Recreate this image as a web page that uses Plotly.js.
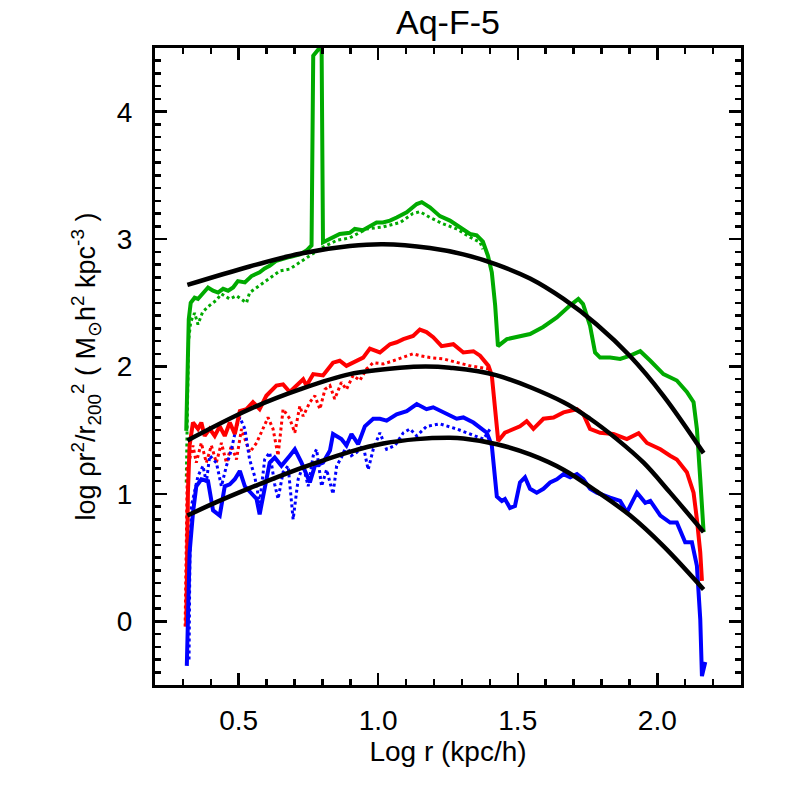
<!DOCTYPE html>
<html>
<head>
<meta charset="utf-8">
<script src="https://cdn.plot.ly/plotly-3.0.1.min.js"></script>
<style>html,body{margin:0;padding:0;background:#fff;}#chart{width:786px;height:786px;}</style>
</head>
<body>
<div id="chart"></div>
<script>
// Green (solid)
const greenX = [0.312,0.316,0.321,0.328,0.342,0.354,0.372,0.390,0.408,0.426,0.444,0.462,0.480,0.497,0.522,0.546,0.575,0.593,0.611,0.635,0.683,0.719,0.743,0.761,0.767,0.797,0.802,0.827,0.862,0.898,0.916,0.945,0.970,0.994,1.017,1.042,1.066,1.102,1.138,1.156,1.185,1.221,1.257,1.304,1.329,1.353,1.375,1.393,1.407,1.419,1.429,1.461,1.496,1.544,1.591,1.640,1.688,1.717,1.734,1.759,1.777,1.795,1.831,1.867,1.903,1.939,1.975,2.022,2.070,2.106,2.130,2.142,2.154,2.166];
const greenY = [1.495,2.06,2.37,2.50,2.54,2.53,2.58,2.62,2.595,2.58,2.61,2.595,2.62,2.67,2.66,2.71,2.74,2.77,2.79,2.83,2.86,2.88,2.91,2.95,4.44,4.52,2.975,3.00,3.04,3.05,3.08,3.07,3.105,3.13,3.13,3.145,3.17,3.21,3.275,3.29,3.25,3.18,3.145,3.08,3.04,3.03,2.98,2.87,2.74,2.48,2.16,2.215,2.23,2.255,2.31,2.385,2.48,2.53,2.49,2.32,2.11,2.07,2.07,2.06,2.085,2.12,2.045,1.94,1.89,1.80,1.72,1.51,1.115,0.70];
// Green (dotted)
const greenDotX = [0.312,0.315,0.320,0.328,0.342,0.354,0.371,0.396,0.420,0.438,0.468,0.492,0.528,0.539,0.564,0.587,0.611,0.647,0.683,0.719,0.755,0.801,0.851,0.898,0.958,1.017,1.078,1.124,1.149,1.185,1.232,1.281,1.329,1.365,1.375];
const greenDotY = [1.09,1.60,2.20,2.35,2.42,2.33,2.43,2.48,2.52,2.57,2.53,2.555,2.50,2.58,2.62,2.65,2.69,2.75,2.765,2.82,2.87,2.935,2.99,3.01,3.08,3.095,3.13,3.20,3.215,3.17,3.12,3.08,3.015,2.975,2.92];
// Red (solid)
const redX = [0.312,0.318,0.324,0.336,0.354,0.366,0.378,0.396,0.414,0.432,0.450,0.468,0.486,0.504,0.528,0.551,0.575,0.599,0.635,0.659,0.683,0.707,0.731,0.743,0.767,0.802,0.838,0.862,0.886,0.946,0.970,1.006,1.042,1.066,1.090,1.125,1.149,1.173,1.197,1.227,1.269,1.305,1.341,1.365,1.395,1.407,1.419,1.430,1.454,1.484,1.508,1.532,1.556,1.592,1.628,1.664,1.712,1.735,1.759,1.795,1.843,1.891,1.933,1.963,2.011,2.046,2.070,2.106,2.130,2.142,2.154,2.160];
const redY = [-0.04,1.01,1.38,1.56,1.51,1.56,1.455,1.51,1.455,1.53,1.455,1.56,1.47,1.65,1.665,1.72,1.665,1.77,1.85,1.86,1.80,1.85,1.90,1.85,1.94,1.93,2.03,2.045,2.005,2.07,2.14,2.11,2.175,2.19,2.215,2.24,2.29,2.27,2.23,2.16,2.175,2.11,2.12,2.085,2.005,1.93,1.69,1.415,1.48,1.51,1.53,1.57,1.51,1.59,1.60,1.64,1.665,1.625,1.51,1.48,1.47,1.43,1.477,1.40,1.35,1.30,1.27,1.17,1.01,0.80,0.54,0.317];
// Red (dotted)
const redDotX = [0.308,0.312,0.316,0.336,0.348,0.366,0.384,0.402,0.420,0.438,0.456,0.474,0.492,0.510,0.528,0.539,0.564,0.587,0.605,0.623,0.641,0.659,0.683,0.701,0.719,0.731,0.755,0.773,0.791,0.809,0.827,0.844,0.868,0.886,0.910,0.934,0.958,0.982,1.018,1.054,1.090,1.125,1.149,1.185,1.233,1.281,1.329,1.401];
const redDotY = [-0.04,0.70,1.20,1.38,1.245,1.40,1.245,1.38,1.245,1.40,1.245,1.38,1.27,1.51,1.40,1.325,1.40,1.51,1.60,1.51,1.30,1.665,1.59,1.48,1.69,1.61,1.72,1.77,1.665,1.82,1.85,1.745,1.875,1.82,1.93,1.89,1.98,2.03,2.02,2.045,2.07,2.10,2.085,2.07,2.06,2.03,2.005,1.98];
// Blue (solid)
const blueX = [0.314,0.324,0.336,0.348,0.366,0.390,0.408,0.432,0.450,0.468,0.486,0.504,0.522,0.539,0.564,0.575,0.593,0.611,0.629,0.653,0.683,0.701,0.725,0.755,0.773,0.802,0.827,0.838,0.868,0.886,0.904,0.928,0.952,0.982,1.006,1.030,1.066,1.102,1.138,1.173,1.197,1.233,1.281,1.305,1.341,1.389,1.407,1.425,1.443,1.454,1.472,1.490,1.508,1.526,1.544,1.568,1.592,1.616,1.640,1.664,1.688,1.712,1.735,1.759,1.783,1.831,1.867,1.891,1.927,1.957,1.975,2.011,2.046,2.070,2.100,2.124,2.142,2.154,2.160,2.172];
const blueY = [-0.35,0.54,0.85,1.06,1.115,1.10,0.87,0.83,1.06,1.075,1.115,1.18,1.06,1.02,0.96,0.84,1.06,1.245,1.285,1.22,1.30,1.35,1.245,1.09,1.22,1.245,1.34,1.47,1.43,1.38,1.47,1.39,1.53,1.59,1.59,1.575,1.625,1.65,1.705,1.665,1.68,1.64,1.59,1.60,1.56,1.48,1.38,0.98,0.945,0.96,0.89,0.905,1.09,1.13,1.04,1.01,1.04,1.09,1.115,1.155,1.13,1.155,1.115,1.04,1.01,0.97,0.945,0.855,1.01,0.93,0.945,0.83,0.775,0.775,0.62,0.62,0.435,0.016,-0.43,-0.32];
// Blue (dotted)
const blueDotX = [0.322,0.325,0.330,0.354,0.372,0.384,0.396,0.420,0.438,0.456,0.474,0.492,0.504,0.522,0.539,0.557,0.575,0.593,0.611,0.629,0.641,0.659,0.677,0.695,0.713,0.731,0.749,0.767,0.779,0.797,0.815,0.838,0.851,0.868,0.886,0.904,0.922,0.946,0.964,0.982,1.006,1.030,1.060,1.090,1.114,1.138,1.173,1.221,1.281,1.329,1.377,1.401];
const blueDotY = [-0.30,0.50,0.90,1.14,1.22,1.09,1.30,1.245,1.06,1.22,1.35,1.53,1.60,1.51,1.27,1.14,0.93,1.27,1.325,1.075,0.96,1.17,1.22,0.80,1.115,1.22,1.06,1.30,1.35,1.06,1.19,1.00,1.22,1.285,1.38,1.30,1.325,1.38,1.19,1.35,1.48,1.35,1.38,1.48,1.51,1.455,1.53,1.55,1.51,1.47,1.43,1.51];
// Black fit curves
const fitTopX = [0.316,0.539,0.719,0.898,1.017,1.185,1.305,1.425,1.544,1.664,1.783,1.903,2.022,2.166];
const fitTopY = [2.64,2.785,2.885,2.945,2.96,2.93,2.88,2.80,2.69,2.53,2.33,2.08,1.77,1.32];
const fitMidX = [0.316,0.539,0.719,0.898,1.078,1.170,1.257,1.425,1.664,1.759,1.855,1.951,2.046,2.166];
const fitMidY = [1.42,1.665,1.82,1.94,1.99,2.00,1.99,1.93,1.72,1.59,1.43,1.245,1.01,0.70];
const fitLowX = [0.316,0.420,0.539,0.659,0.779,0.898,1.018,1.138,1.257,1.305,1.425,1.544,1.664,1.783,1.903,2.022,2.166];
const fitLowY = [0.83,0.935,1.045,1.15,1.245,1.33,1.395,1.43,1.44,1.435,1.39,1.31,1.19,1.02,0.83,0.59,0.25];

const GREEN = 'rgb(0,170,0)', RED = 'rgb(255,0,0)', BLUE = 'rgb(0,0,255)';
const dotted = (x, y, c) => ({x, y, type: 'scatter', mode: 'lines', line: {color: c, width: 3, dash: '3px,3px'}, hoverinfo: 'skip'});
const solid = (x, y, c, w) => ({x, y, type: 'scatter', mode: 'lines', line: {color: c, width: w}, hoverinfo: 'skip'});
const smooth = (x, y) => ({x, y, type: 'scatter', mode: 'lines', line: {color: 'black', width: 4.5, shape: 'spline', smoothing: 1}, hoverinfo: 'skip'});

const data = [
  dotted(greenDotX, greenDotY, GREEN),
  dotted(redDotX, redDotY, RED),
  dotted(blueDotX, blueDotY, BLUE),
  solid(greenX, greenY, GREEN, 4),
  solid(redX, redY, RED, 4),
  solid(blueX, blueY, BLUE, 4),
  smooth(fitTopX, fitTopY),
  smooth(fitMidX, fitMidY),
  smooth(fitLowX, fitLowY)
];

const FONT = 'Liberation Sans, Arial, Helvetica, sans-serif';
const axisCommon = {
  showline: true, linewidth: 3, linecolor: 'black', mirror: 'allticks',
  ticks: 'inside', ticklen: 12, tickwidth: 2.5, tickcolor: 'black',
  showgrid: false, zeroline: false,
  tickfont: {family: FONT, size: 28, color: 'black'}
};

const layout = {
  width: 786, height: 786,
  margin: {l: 155, r: 45, t: 48, b: 101},
  paper_bgcolor: 'white', plot_bgcolor: 'white',
  showlegend: false,
  font: {family: FONT, color: 'black'},
  title: {text: 'Aq-F-5', font: {family: FONT, size: 34, color: 'black'}, x: 0.5, xref: 'paper', y: 0.972, yref: 'container', yanchor: 'middle'},
  xaxis: Object.assign({}, axisCommon, {
    range: [0.2, 2.3], tick0: 0.5, dtick: 0.5, tickformat: '.1f',
    ticklabelstandoff: 8,
    minor: {dtick: 0.1, tick0: 0, ticks: 'inside', ticklen: 6, tickwidth: 2.5, tickcolor: 'black'},
    title: {text: 'Log r (kpc/h)', font: {family: FONT, size: 28, color: 'black'}, standoff: 0}
  }),
  yaxis: Object.assign({}, axisCommon, {
    range: [-0.5, 4.5], tick0: 0, dtick: 1,
    ticklabelstandoff: 14,
    minor: {dtick: 0.1, tick0: 0, ticks: 'inside', ticklen: 6, tickwidth: 2.5, tickcolor: 'black'},
    title: {text: 'log ρr<sup>2</sup>/r<sub>200</sub><sup>2</sup> ( M<sub>⊙</sub>h<sup>2</sup> kpc<sup>-3</sup> )', font: {family: FONT, size: 27, color: 'black'}, standoff: 14}
  })
};

Plotly.newPlot('chart', data, layout, {displayModeBar: false, staticPlot: true});
</script>
</body>
</html>
